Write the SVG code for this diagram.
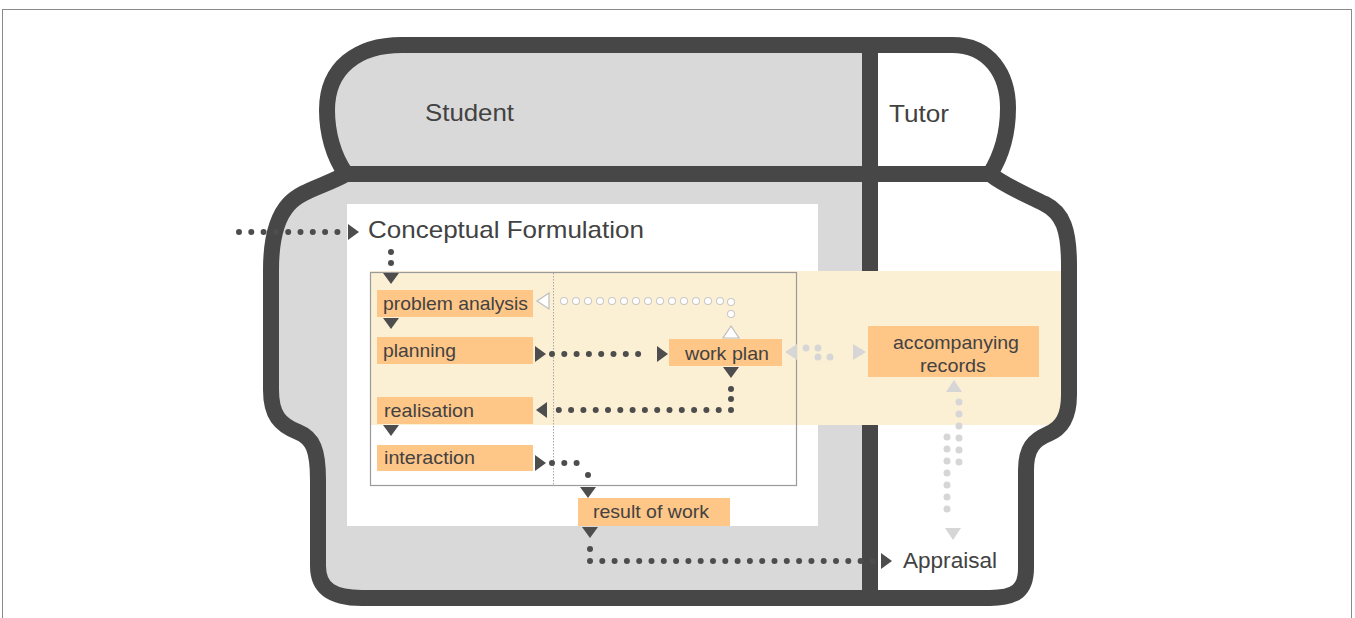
<svg xmlns="http://www.w3.org/2000/svg" width="1355" height="618" viewBox="0 0 1355 618">
<style>
text{font-family:"Liberation Sans",Arial,sans-serif;fill:#424242}
.head{font-size:24px}
.lab{font-size:19px}
.box{fill:#fec687}
.outline{fill:none;stroke:#474747;stroke-width:16;stroke-linejoin:round}
.dk{fill:none;stroke:#4d4d4d;stroke-width:6;stroke-linecap:round;stroke-dasharray:0 12.3}
.dot{fill:#4d4d4d}
.lg{fill:none;stroke:#d6d6d6;stroke-width:7;stroke-linecap:round;stroke-dasharray:0 12}
.hol-o{fill:none;stroke:#c8c8c8;stroke-width:8;stroke-linecap:round;stroke-dasharray:0 12}
.hol-i{fill:none;stroke:#ffffff;stroke-width:6;stroke-linecap:round;stroke-dasharray:0 12}
.ah{fill:#4d4d4d}
.ahl{fill:#d6d6d6}
.ahw{fill:#ffffff;stroke:#bdbdbd;stroke-width:1.2}
</style>
<defs>
<path id="body" d="M 346,174 C 325,186 302,190 289,204 C 276,218 271,240 271,270 L 271,390 C 271,415 280,425 298,432 C 313,438 318,450 318,480 L 318,566 C 318,590 334,598 362,598 L 990,598 C 1016,598 1026,590 1026,568 L 1026,470 C 1026,448 1034,440 1048,434 C 1063,428 1069,415 1069,395 L 1069,265 C 1069,230 1063,213 1045,204 C 1025,194 1005,186 990,174 Z"/>
<path id="cap" d="M 346,174 C 333,156 327,132 327,110 C 327,68 357,45 402,45 L 952,45 C 990,45 1008,75 1008,108 C 1008,135 1000,158 990,174 Z"/>
<clipPath id="leftHalf"><rect x="0" y="0" width="870" height="618"/></clipPath>
<clipPath id="bodyClip"><use href="#body"/></clipPath>
</defs>
<rect x="0" y="0" width="1355" height="618" fill="#ffffff"/>
<rect x="2.5" y="9.5" width="1349" height="620" fill="none" stroke="#8a8a8a" stroke-width="1"/>

<g id="swimlanes">
<use href="#body" fill="#ffffff"/>
<use href="#cap" fill="#ffffff"/>
<g clip-path="url(#leftHalf)">
<use href="#body" fill="#d9d9d9"/>
<use href="#cap" fill="#d9d9d9"/>
</g>
<rect x="347" y="204" width="471" height="322" fill="#ffffff"/>
<line x1="870" y1="37" x2="870" y2="271" stroke="#474747" stroke-width="16"/>
<line x1="870" y1="425" x2="870" y2="606" stroke="#474747" stroke-width="16"/>
<rect x="370" y="271" width="700" height="154" fill="#fcf0d4" clip-path="url(#bodyClip)"/>
<rect x="370.5" y="272.5" width="426" height="213" fill="none" stroke="#9a9a9a" stroke-width="1.2"/>
<line x1="553.5" y1="273" x2="553.5" y2="485" stroke="#a8a8a8" stroke-width="1" stroke-dasharray="1.5 1.5"/>
<use href="#body" class="outline"/>
<use href="#cap" class="outline"/>
<text class="head" x="425" y="121" textLength="89" lengthAdjust="spacingAndGlyphs">Student</text>
<text class="head" x="889" y="122" textLength="60" lengthAdjust="spacingAndGlyphs">Tutor</text>
</g>

<g id="conceptual">
<text class="head" x="368" y="238" textLength="276" lengthAdjust="spacingAndGlyphs">Conceptual Formulation</text>
</g>
<g id="problem-analysis">
<rect class="box" x="377" y="290" width="156" height="27"/>
<text class="lab" x="383" y="310" textLength="145" lengthAdjust="spacingAndGlyphs">problem analysis</text>
</g>
<g id="planning">
<rect class="box" x="377" y="337" width="156" height="27"/>
<text class="lab" x="383" y="357" textLength="73" lengthAdjust="spacingAndGlyphs">planning</text>
</g>
<g id="realisation">
<rect class="box" x="377" y="397" width="156" height="27"/>
<text class="lab" x="384" y="417" textLength="90" lengthAdjust="spacingAndGlyphs">realisation</text>
</g>
<g id="interaction">
<rect class="box" x="377" y="445" width="156" height="26"/>
<text class="lab" x="384" y="464" textLength="91" lengthAdjust="spacingAndGlyphs">interaction</text>
</g>
<g id="work-plan">
<rect class="box" x="669" y="339" width="113" height="27"/>
<text class="lab" x="685" y="360" textLength="84" lengthAdjust="spacingAndGlyphs">work plan</text>
</g>
<g id="accompanying-records">
<rect class="box" x="868" y="326" width="171" height="51"/>
<text class="lab" x="893" y="349" textLength="126" lengthAdjust="spacingAndGlyphs">accompanying</text>
<text class="lab" x="920" y="372" textLength="66" lengthAdjust="spacingAndGlyphs">records</text>
</g>
<g id="result-of-work">
<rect class="box" x="578" y="498" width="152" height="28"/>
<text class="lab" x="593" y="518" textLength="116" lengthAdjust="spacingAndGlyphs">result of work</text>
</g>
<g id="appraisal">
<text class="head" x="903" y="568" textLength="94" lengthAdjust="spacingAndGlyphs" style="font-size:22px">Appraisal</text>
</g>

<g id="connectors">
<!-- entry into Conceptual Formulation -->
<path class="dk" d="M 239,232 L 340,232"/>
<polygon class="ah" points="348,224 359,232 348,240"/>
<!-- conceptual -> problem analysis -->
<circle class="dot" cx="391" cy="252" r="3"/>
<circle class="dot" cx="391" cy="263" r="3"/>
<polygon class="ah" points="383,273 399,273 391,284"/>
<!-- problem -> planning -->
<polygon class="ah" points="383,318 399,318 391,329"/>
<!-- planning -> work plan -->
<polygon class="ah" points="535,346 546,354 535,362"/>
<path class="dk" d="M 552,354 L 650,354"/>
<polygon class="ah" points="657,346 668,354 657,362"/>
<!-- work plan -> realisation -->
<polygon class="ah" points="723,367 739,367 731,378"/>
<circle class="dot" cx="731" cy="389" r="3"/>
<circle class="dot" cx="731" cy="399" r="3"/>
<path class="dk" d="M 731,410 L 553,410"/>
<polygon class="ah" points="547,402 536,410 547,418"/>
<!-- realisation -> interaction -->
<polygon class="ah" points="383,425 399,425 391,436"/>
<!-- interaction -> result of work -->
<polygon class="ah" points="535,455 546,463 535,471"/>
<path class="dk" d="M 552,463 L 588,463"/>
<circle class="dot" cx="588" cy="475" r="3"/>
<polygon class="ah" points="580,487 596,487 588,498"/>
<!-- result of work -> appraisal -->
<polygon class="ah" points="582,527 598,527 590,538"/>
<circle class="dot" cx="590" cy="549" r="3"/>
<path class="dk" d="M 590,561 L 873,561"/>
<polygon class="ah" points="881,553 892,561 881,569"/>
<!-- work plan -> problem analysis (hollow) -->
<polygon class="ahw" points="723,338 739,338 731,326"/>
<path class="hol-o" d="M 731,314 L 731,301 L 556,301"/>
<path class="hol-i" d="M 731,314 L 731,301 L 556,301"/>
<polygon class="ahw" points="549,293 537,301 549,309"/>
<!-- work plan <-> accompanying records (light) -->
<polygon class="ahl" points="797,344 785,352 797,360"/>
<path class="lg" d="M 806,348 L 830,348"/>
<path class="lg" d="M 818,357 L 842,357"/>
<polygon class="ahl" points="853,344 866,352 853,360"/>
<!-- accompanying records <-> appraisal (light) -->
<polygon class="ahl" points="946,392 962,392 954,380"/>
<path class="lg" d="M 959,402 L 959,474"/>
<path class="lg" d="M 947,437 L 947,521"/>
<polygon class="ahl" points="945,528 961,528 953,540"/>
</g>
</svg>
